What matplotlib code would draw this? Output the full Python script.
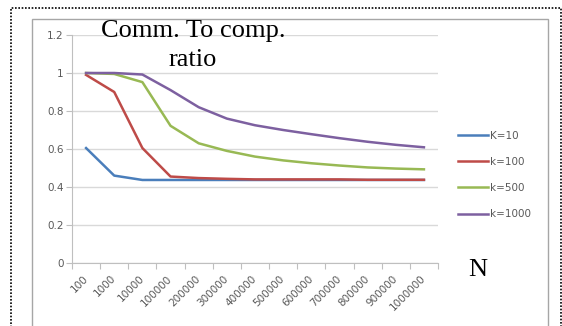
import matplotlib
matplotlib.use("Agg")
import matplotlib.pyplot as plt
from matplotlib.patches import Rectangle
import numpy as np

categories = ["100", "1000", "10000", "100000", "200000", "300000", "400000",
              "500000", "600000", "700000", "800000", "900000", "1000000"]
k10 = [0.605, 0.46, 0.437, 0.437, 0.437, 0.437, 0.437, 0.437, 0.437, 0.437, 0.437, 0.437, 0.437]
k100 = [0.99, 0.90, 0.605, 0.455, 0.447, 0.443, 0.44, 0.44, 0.44, 0.44, 0.438, 0.438, 0.438]
k500 = [1.0, 0.995, 0.952, 0.722, 0.63, 0.59, 0.56, 0.54, 0.525, 0.513, 0.503, 0.497, 0.493]
k1000 = [1.0, 1.0, 0.992, 0.91, 0.82, 0.76, 0.725, 0.70, 0.678, 0.657, 0.638, 0.622, 0.609]
series_names = ["K=10", "k=100", "k=500", "k=1000"]
colors = ["#4a7ebb", "#be4b48", "#98b954", "#7d60a0"]
yticks = [0, 0.2, 0.4, 0.6, 0.8, 1, 1.2]
ytick_labels = ["0", "0.2", "0.4", "0.6", "0.8", "1", "1.2"]

W, H = 562, 326
fig = plt.figure(figsize=(W / 100, H / 100), dpi=100)

# borders
fig.patches.append(Rectangle((11 / W, -0.2), (561 - 11) / W, 1.2 - 8 / H,
                             transform=fig.transFigure, fill=False,
                             edgecolor="black", linestyle=(0, (1, 1)), linewidth=1.2))
fig.patches.append(Rectangle((32 / W, -0.2), (548 - 32) / W, 1.2 - 19 / H,
                             transform=fig.transFigure, fill=False,
                             edgecolor="#a6a6a6", linewidth=1.0))

ax = fig.add_axes([72 / W, 1 - 263 / H, (438 - 72) / W, (263 - 35) / H])
x = np.arange(len(categories))
for vals, name, c in zip([k10, k100, k500, k1000], series_names, colors):
    ax.plot(x, vals, color=c, linewidth=1.8, label=name, solid_joinstyle="round")

ax.set_xlim(-0.5, len(categories) - 0.5)
ax.set_ylim(0, 1.2)
ax.set_yticks(yticks)
ax.set_yticklabels(ytick_labels)
ax.yaxis.grid(True, color="#d9d9d9", linewidth=1.0)
ax.set_axisbelow(True)
for s in ["top", "right"]:
    ax.spines[s].set_visible(False)
for s in ["left", "bottom"]:
    ax.spines[s].set_color("#bfbfbf")
ax.tick_params(axis="y", colors="#bfbfbf", labelcolor="#595959", labelsize=7.5,
               length=4, pad=2)

ax.set_xticks(np.arange(-0.5, len(categories)), minor=False)
ax.set_xticklabels([])
ax.tick_params(axis="x", which="major", colors="#bfbfbf", length=4)
ax.set_xticks(x, minor=True)
ax.set_xticklabels(categories, minor=True, rotation=45, ha="right", va="center",
                   rotation_mode="anchor", color="#595959", fontsize=7.5)
ax.tick_params(axis="x", which="minor", length=0, pad=10)

leg = fig.legend(loc="center left", bbox_to_anchor=(458 / W, 1 - 175 / H),
                 frameon=False, fontsize=7.5, handlelength=2.9, handletextpad=0.15,
                 labelspacing=1.55, borderaxespad=0, borderpad=0)
for t in leg.get_texts():
    t.set_color("#595959")

fig.text(193 / W, 1 - 31 / H, "Comm. To comp.", fontsize=19, family="Liberation Serif",
         ha="center", va="center", color="black")
fig.text(193 / W, 1 - 60 / H, "ratio", fontsize=19, family="Liberation Serif",
         ha="center", va="center", color="black")
fig.text(478 / W, 1 - 270 / H, "N", fontsize=19, family="Liberation Serif",
         ha="center", va="center", color="black")

fig.savefig("out.png", dpi=100)
